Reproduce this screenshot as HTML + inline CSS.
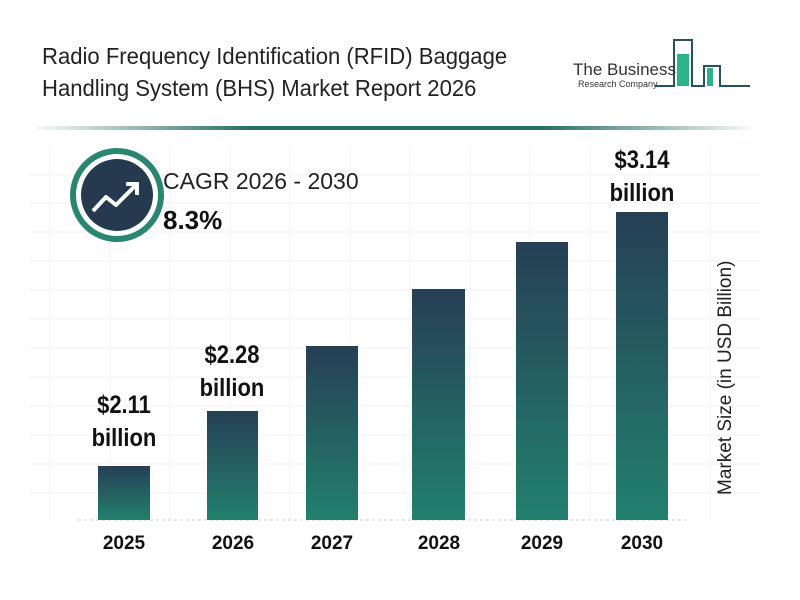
<!DOCTYPE html><html><head><style>
body{margin:0;width:800px;height:600px;background:#fff;font-family:"Liberation Sans",sans-serif;overflow:hidden;position:relative}
.t{position:absolute;left:42px;top:40px;font-size:23px;line-height:32px;color:#222;transform-origin:0 0;transform:scaleX(0.96)}
.lbl{position:absolute;font-weight:bold;font-size:25px;text-align:center;color:#111;line-height:33px;font-family:"Liberation Sans",sans-serif;transform:scaleX(0.88)}
.yr{position:absolute;top:533px;font-weight:bold;font-size:19px;width:80px;text-align:center;color:#111}
</style></head><body>
<div class="t">Radio Frequency Identification (RFID) Baggage<br>Handling System (BHS) Market Report 2026</div>
<svg width="800" height="600" style="position:absolute;left:0;top:0">
<defs>
<linearGradient id="g" x1="0" y1="0" x2="0" y2="1"><stop offset="0" stop-color="#263f55"/><stop offset="1" stop-color="#22806e"/></linearGradient>
<linearGradient id="h" x1="0" x2="1"><stop offset="0" stop-color="#fff"/><stop offset="0.3" stop-color="#2a6f63"/><stop offset="0.7" stop-color="#2a6f63"/><stop offset="1" stop-color="#fff"/></linearGradient>
</defs>
<rect x="30" y="126" width="730" height="4" fill="url(#h)"/>
<g stroke="#f2f2f2" stroke-width="1">
<line x1="30" y1="175" x2="760" y2="175"/><line x1="30" y1="203" x2="760" y2="203"/><line x1="30" y1="232" x2="760" y2="232"/><line x1="30" y1="261" x2="760" y2="261"/><line x1="30" y1="290" x2="760" y2="290"/><line x1="30" y1="319" x2="760" y2="319"/><line x1="30" y1="348" x2="760" y2="348"/><line x1="30" y1="377" x2="760" y2="377"/><line x1="30" y1="406" x2="760" y2="406"/><line x1="30" y1="435" x2="760" y2="435"/><line x1="30" y1="464" x2="760" y2="464"/><line x1="30" y1="493" x2="760" y2="493"/>
<line x1="50" y1="145" x2="50" y2="520"/><line x1="110" y1="145" x2="110" y2="520"/><line x1="170" y1="145" x2="170" y2="520"/><line x1="230" y1="145" x2="230" y2="520"/><line x1="290" y1="145" x2="290" y2="520"/><line x1="350" y1="145" x2="350" y2="520"/><line x1="410" y1="145" x2="410" y2="520"/><line x1="470" y1="145" x2="470" y2="520"/><line x1="530" y1="145" x2="530" y2="520"/><line x1="590" y1="145" x2="590" y2="520"/><line x1="650" y1="145" x2="650" y2="520"/><line x1="710" y1="145" x2="710" y2="520"/>
</g>
<line x1="78" y1="520" x2="690" y2="520" stroke="#ccc" stroke-dasharray="3,3"/>
<rect x="98" y="466" width="52" height="54" fill="url(#g)"/>
<rect x="207" y="411" width="51" height="109" fill="url(#g)"/>
<rect x="306" y="346" width="52" height="174" fill="url(#g)"/>
<rect x="412" y="289" width="53" height="231" fill="url(#g)"/>
<rect x="516" y="242" width="52" height="278" fill="url(#g)"/>
<rect x="616" y="212" width="52" height="308" fill="url(#g)"/>
<circle cx="117" cy="195" r="44" fill="#fff" stroke="#2a8571" stroke-width="6"/>
<circle cx="117" cy="195" r="36" fill="#253a4f"/>
<polyline points="93,211 106,197 116,205 136,185" fill="none" stroke="#fff" stroke-width="4" stroke-linejoin="round"/>
<polyline points="126,184 137,184 137,195" fill="none" stroke="#fff" stroke-width="4"/>
<g fill="none" stroke="#2a5060" stroke-width="2">
<polyline points="655,86 674,86 674,40 692,40 692,86 704,86 704,66 720,66 720,86 750,86"/>
</g>
<rect x="677" y="54" width="12" height="32" fill="#2bb38a"/>
<rect x="707" y="68" width="6" height="18" fill="#2bb38a"/>
<text x="573" y="75" font-size="17" fill="#333" font-family="Liberation Sans">The Business</text>
<text x="578" y="87" font-size="9" fill="#333" font-family="Liberation Sans">Research Company</text>
<text x="0" y="0" transform="translate(731,495) rotate(-90)" font-size="19" fill="#222" font-family="Liberation Sans">Market Size (in USD Billion)</text>
</svg>
<div style="position:absolute;left:163px;top:168px;font-size:23px;color:#222">CAGR 2026 - 2030</div>
<div style="position:absolute;left:163px;top:205px;font-size:26px;font-weight:bold;color:#111">8.3%</div>
<div class="lbl" style="left:74px;top:389px;width:100px">$2.11<br>billion</div>
<div class="lbl" style="left:182px;top:339px;width:100px">$2.28<br>billion</div>
<div class="lbl" style="left:592px;top:144px;width:100px">$3.14<br>billion</div>
<div class="yr" style="left:84px">2025</div>
<div class="yr" style="left:193px">2026</div>
<div class="yr" style="left:292px">2027</div>
<div class="yr" style="left:399px">2028</div>
<div class="yr" style="left:502px">2029</div>
<div class="yr" style="left:602px">2030</div>
</body></html>
